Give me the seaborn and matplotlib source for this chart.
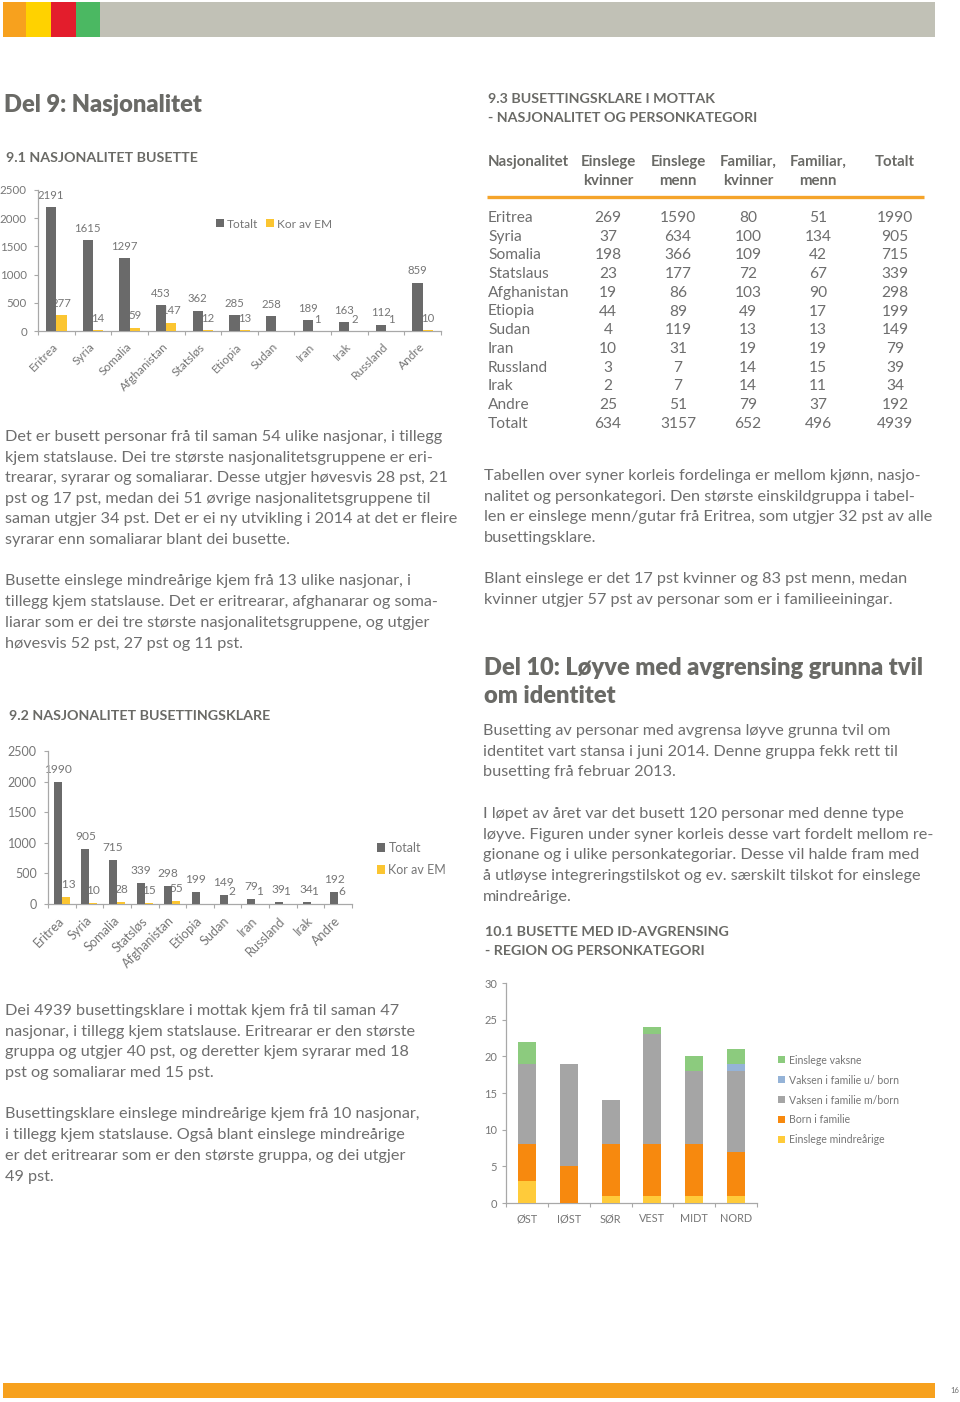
import numpy as np
import pandas as pd
import matplotlib
matplotlib.use("Agg")
import matplotlib.pyplot as plt
import seaborn as sns
from matplotlib.patches import Rectangle, Patch
from matplotlib.lines import Line2D

# ---------------- data ----------------
land_91 = ["Eritrea", "Syria", "Somalia", "Afghanistan", "Statsløs", "Etiopia",
           "Sudan", "Iran", "Irak", "Russland", "Andre"]
totalt_91 = [2191, 1615, 1297, 453, 362, 285, 258, 189, 163, 112, 859]
em_91 = [277, 14, 59, 147, 12, 13, 0, 1, 2, 1, 10]

land_92 = ["Eritrea", "Syria", "Somalia", "Statsløs", "Afghanistan", "Etiopia",
           "Sudan", "Iran", "Russland", "Irak", "Andre"]
totalt_92 = [1990, 905, 715, 339, 298, 199, 149, 79, 39, 34, 192]
em_92 = [113, 10, 28, 15, 55, 0, 2, 1, 1, 1, 6]

serie_namn = ["Totalt", "Kor av EM"]

tab_kolonnar = ["Nasjonalitet", "Einslege\nkvinner", "Einslege\nmenn",
                "Familiar,\nkvinner", "Familiar,\nmenn", "Totalt"]
tab_nasjonalitet = ["Eritrea", "Syria", "Somalia", "Statslaus", "Afghanistan", "Etiopia",
                    "Sudan", "Iran", "Russland", "Irak", "Andre", "Totalt"]
tab_einslege_kvinner = [269, 37, 198, 23, 19, 44, 4, 10, 3, 2, 25, 634]
tab_einslege_menn = [1590, 634, 366, 177, 86, 89, 119, 31, 7, 7, 51, 3157]
tab_familiar_kvinner = [80, 100, 109, 72, 103, 49, 13, 19, 14, 14, 79, 652]
tab_familiar_menn = [51, 134, 42, 67, 90, 17, 13, 19, 15, 11, 37, 496]
tab_totalt = [1990, 905, 715, 339, 298, 199, 149, 79, 39, 34, 192, 4939]

regionar = ["ØST", "IØST", "SØR", "VEST", "MIDT", "NORD"]
kat_namn = ["Einslege mindreårige", "Born i familie", "Vaksen i familie m/born",
            "Vaksen i familie u/ born", "Einslege vaksne"]
einslege_mindrearige = [3, 0, 1, 1, 1, 1]
born_i_familie = [5, 5, 7, 7, 7, 6]
vaksen_m_born = [11, 14, 6, 15, 10, 11]
vaksen_u_born = [0, 0, 0, 0, 0, 1]
einslege_vaksne = [3, 0, 0, 1, 2, 2]

# ---------------- style ----------------
sns.set_style("white")
FONT = "Lato"
plt.rcParams["font.family"] = [FONT, "DejaVu Sans"]

BODY = "#6E6E6E"
HEAD = "#6A6A66"
CTXT = "#767676"
AXC = "#A8A8A8"
GRAY = "#6A6A6A"
YEL = "#FBC531"
ORANGE_LINE = "#F5A42A"
C101 = ["#FFCB3A", "#F7890E", "#A5A5A5", "#95B3D7", "#8CCB7E"]

W, H = 960, 1402
fig = plt.figure(figsize=(W / 100, H / 100), dpi=100)
fig.patch.set_facecolor("white")
renderer = fig.canvas.get_renderer()


def fy(y):
    return 1 - y / H


def px_axes(l, t, r, b):
    return fig.add_axes([l / W, 1 - b / H, (r - l) / W, (b - t) / H])


def rect(x0, y0, x1, y1, c):
    fig.add_artist(Rectangle((x0 / W, 1 - y1 / H), (x1 - x0) / W, (y1 - y0) / H,
                             transform=fig.transFigure, facecolor=c, lw=0))


def fit(sample, target, weight="normal", base=10.0):
    t = fig.text(0, 0, sample, fontsize=base, fontweight=weight)
    w = t.get_window_extent(renderer).width
    t.remove()
    return base * target / w


def para(x, y0, lines, size, step, color=BODY, weight="normal"):
    for i, s in enumerate(lines):
        fig.text(x / W, fy(y0 + i * step), s, fontsize=size, color=color,
                 fontweight=weight, va="baseline", ha="left")


# ---------------- header / footer ----------------
rect(3, 2, 26, 37, "#F7A11E")
rect(26, 2, 51, 37, "#FFD200")
rect(51, 2, 76, 37, "#E31D2C")
rect(76, 2, 100, 37, "#4BB862")
rect(100, 2, 935, 37, "#C1C1B6")
rect(3, 1383, 935, 1398, "#F7A11E")
fig.text(955 / W, fy(1393), "16", fontsize=5.5, color=BODY, ha="center", va="baseline")

# ---------------- font sizes ----------------
SEC_W = "bold"
DEL_W = "heavy"
s_body = fit("Det er busett personar frå til saman 54 ulike nasjonar, i tillegg", 438)
s_sec = fit("9.3 BUSETTINGSKLARE I MOTTAK", 227, weight=SEC_W)
s_del = (fit("Del 9: Nasjonalitet", 197, weight=DEL_W) +
         fit("Del 10: Løyve med avgrensing grunna tvil", 444, weight=DEL_W)) / 2
s_tabh = fit("Nasjonalitet", 81, weight=SEC_W)
s_tab = fit("Afghanistan", 81)

# ---------------- titles ----------------
fig.text(4 / W, fy(112), "Del 9: Nasjonalitet", fontsize=s_del, fontweight=DEL_W,
         color=HEAD, va="baseline")
fig.text(6 / W, fy(162), "9.1 NASJONALITET BUSETTE", fontsize=s_sec,
         fontweight=SEC_W, color=HEAD, va="baseline")
fig.text(9 / W, fy(720), "9.2 NASJONALITET BUSETTINGSKLARE", fontsize=s_sec,
         fontweight=SEC_W, color=HEAD, va="baseline")
para(488, 103, ["9.3 BUSETTINGSKLARE I MOTTAK", "- NASJONALITET OG PERSONKATEGORI"],
     s_sec, 19, color=HEAD, weight=SEC_W)
para(484, 675, ["Del 10: Løyve med avgrensing grunna tvil", "om identitet"],
     s_del, 28, color=HEAD, weight=DEL_W)
para(485, 936, ["10.1 BUSETTE MED ID-AVGRENSING", "- REGION OG PERSONKATEGORI"],
     s_sec, 19, color=HEAD, weight=SEC_W)

# ---------------- body text ----------------
para(5, 441, [
    "Det er busett personar frå til saman 54 ulike nasjonar, i tillegg",
    "kjem statslause. Dei tre største nasjonalitetsgruppene er eri-",
    "trearar, syrarar og somaliarar. Desse utgjer høvesvis 28 pst, 21",
    "pst og 17 pst, medan dei 51 øvrige nasjonalitetsgruppene til",
    "saman utgjer 34 pst. Det er ei ny utvikling i 2014 at det er fleire",
    "syrarar enn somaliarar blant dei busette."], s_body, 20.6)
para(5, 585, [
    "Busette einslege mindreårige kjem frå 13 ulike nasjonar, i",
    "tillegg kjem statslause. Det er eritrearar, afghanarar og soma-",
    "liarar som er dei tre største nasjonalitetsgruppene, og utgjer",
    "høvesvis 52 pst, 27 pst og 11 pst."], s_body, 21)
para(5, 1015, [
    "Dei 4939 busettingsklare i mottak kjem frå til saman 47",
    "nasjonar, i tillegg kjem statslause. Eritrearar er den største",
    "gruppa og utgjer 40 pst, og deretter kjem syrarar med 18",
    "pst og somaliarar med 15 pst."], s_body, 20.7)
para(5, 1118, [
    "Busettingsklare einslege mindreårige kjem frå 10 nasjonar,",
    "i tillegg kjem statslause. Også blant einslege mindreårige",
    "er det eritrearar som er den største gruppa, og dei utgjer",
    "49 pst."], s_body, 20.9)
para(484, 480, [
    "Tabellen over syner korleis fordelinga er mellom kjønn, nasjo-",
    "nalitet og personkategori. Den største einskildgruppa i tabel-",
    "len er einslege menn/gutar frå Eritrea, som utgjer 32 pst av alle",
    "busettingsklare."], s_body, 20.7)
para(484, 583, [
    "Blant einslege er det 17 pst kvinner og 83 pst menn, medan",
    "kvinner utgjer 57 pst av personar som er i familieeiningar."], s_body, 21)
para(483, 735, [
    "Busetting av personar med avgrensa løyve grunna tvil om",
    "identitet vart stansa i juni 2014. Denne gruppa fekk rett til",
    "busetting frå februar 2013."], s_body, 20.6)
para(483, 818, [
    "I løpet av året var det busett 120 personar med denne type",
    "løyve. Figuren under syner korleis desse vart fordelt mellom re-",
    "gionane og i ulike personkategoriar. Desse vil halde fram med",
    "å utløyse integreringstilskot og ev. særskilt tilskot for einslege",
    "mindreårige."], s_body, 20.7)

# ---------------- table 9.3 ----------------
col_x = [488, 608, 678, 748, 818, 895]
for j, head in enumerate(tab_kolonnar):
    parts = head.split("\n")
    for k, p in enumerate(parts):
        fig.text(col_x[j] / W, fy(166 + 19 * k), p, fontsize=s_tabh, fontweight=SEC_W,
                 color=HEAD, va="baseline", ha="left" if j == 0 else "center")
fig.add_artist(Line2D([487 / W, 924 / W], [fy(197), fy(197)], transform=fig.transFigure,
                      color=ORANGE_LINE, lw=2.4, solid_capstyle="butt"))
cols = [tab_einslege_kvinner, tab_einslege_menn, tab_familiar_kvinner,
        tab_familiar_menn, tab_totalt]
for i, nm in enumerate(tab_nasjonalitet):
    yb = 222 + i * 18.7
    fig.text(col_x[0] / W, fy(yb), nm, fontsize=s_tab, color=BODY, va="baseline", ha="left")
    for j, c in enumerate(cols):
        fig.text(col_x[j + 1] / W, fy(yb), str(c[i]), fontsize=s_tab, color=BODY,
                 va="baseline", ha="center")


# ---------------- grouped bar charts ----------------
def grouped(ax, land, tot, em, width, tick_fs, xtick_fs, lab_fs, xpad, lpad):
    n = len(land)
    df = pd.DataFrame({"Land": land * 2, "Verdi": tot + em,
                       "Serie": [serie_namn[0]] * n + [serie_namn[1]] * n})
    sns.barplot(data=df, x="Land", y="Verdi", hue="Serie", order=land,
                hue_order=serie_namn, palette=[GRAY, YEL], saturation=1,
                width=width, errorbar=None, ax=ax, zorder=3, linewidth=0)
    for cont, vals in zip(ax.containers, [tot, em]):
        ax.bar_label(cont, labels=[str(v) if v > 0 else "" for v in vals],
                     padding=lpad, fontsize=lab_fs, color=CTXT, zorder=2)
    ax.set_ylim(0, 2500)
    ax.set_yticks(range(0, 2501, 500))
    ax.set_xlim(-0.5, n - 0.5)
    ax.set_xlabel("")
    ax.set_ylabel("")
    for s in ["top", "right"]:
        ax.spines[s].set_visible(False)
    for s in ["left", "bottom"]:
        ax.spines[s].set_color(AXC)
        ax.spines[s].set_linewidth(0.9)
    ax.tick_params(axis="y", left=True, length=3, width=0.8, color=AXC, pad=5,
                   labelsize=tick_fs, labelcolor=CTXT)
    ax.set_xticks(np.arange(-0.5, n), minor=True)
    ax.tick_params(axis="x", which="minor", bottom=True, length=3, width=0.8, color=AXC)
    ax.tick_params(axis="x", which="major", bottom=False, length=0, pad=xpad,
                   labelsize=xtick_fs, labelcolor=CTXT)
    plt.setp(ax.get_xticklabels(), rotation=45, ha="right", va="center",
             rotation_mode="anchor")
    ax.patch.set_alpha(0)


ax1 = px_axes(38, 190, 441, 331)
grouped(ax1, land_91, totalt_91, em_91, 0.56, 8.3, 8.6, 8.2, 10, 4.5)
sns.move_legend(ax1, "center left", bbox_to_anchor=(210 / W, fy(224)),
                bbox_transform=fig.transFigure, ncol=2, frameon=False, title=None,
                fontsize=8.6, handlelength=0.65, handleheight=0.65, handletextpad=0.25,
                columnspacing=0.7, borderpad=0, labelcolor=CTXT)

ax2 = px_axes(48, 751, 352, 904)
grouped(ax2, land_92, totalt_92, em_92, 0.58, 9, 9.2, 8.6, 10.5, 5)
sns.move_legend(ax2, "center left", bbox_to_anchor=(371 / W, fy(859)),
                bbox_transform=fig.transFigure, ncol=1, frameon=False, title=None,
                fontsize=9, handlelength=0.65, handleheight=0.65, handletextpad=0.25,
                labelspacing=0.8, borderpad=0, labelcolor=CTXT)

# ---------------- stacked chart 10.1 ----------------
ax3 = px_axes(506, 983, 757, 1203)
layers = [einslege_mindrearige, born_i_familie, vaksen_m_born, vaksen_u_born, einslege_vaksne]
cum = np.cumsum(np.array(layers), axis=0)
for i in range(len(layers) - 1, -1, -1):
    sns.barplot(x=regionar, y=cum[i], order=regionar, color=C101[i], saturation=1,
                width=0.43, errorbar=None, ax=ax3, zorder=3, linewidth=0)
ax3.set_ylim(0, 30)
ax3.set_yticks(range(0, 31, 5))
ax3.set_xlim(-0.5, len(regionar) - 0.5)
for s in ["top", "right"]:
    ax3.spines[s].set_visible(False)
for s in ["left", "bottom"]:
    ax3.spines[s].set_color(AXC)
    ax3.spines[s].set_linewidth(0.9)
ax3.tick_params(axis="y", left=True, length=3, width=0.8, color=AXC, pad=3.5,
                labelsize=8, labelcolor=CTXT)
ax3.set_xticks(np.arange(-0.5, len(regionar)), minor=True)
ax3.tick_params(axis="x", which="minor", bottom=True, length=3, width=0.8, color=AXC)
ax3.tick_params(axis="x", which="major", bottom=False, length=0, pad=7.5,
                labelsize=7.8, labelcolor=CTXT)
ax3.patch.set_alpha(0)
handles = [Patch(facecolor=C101[i], lw=0) for i in range(len(layers) - 1, -1, -1)]
labels = [kat_namn[i] for i in range(len(layers) - 1, -1, -1)]
ax3.legend(handles, labels, loc="center left", bbox_to_anchor=(773 / W, fy(1100)),
           bbox_transform=fig.transFigure, frameon=False, fontsize=7.6,
           handlelength=0.65, handleheight=0.65, handletextpad=0.35, labelspacing=0.85,
           borderpad=0, labelcolor=CTXT)

fig.savefig("out.png", dpi=100, facecolor="white")
